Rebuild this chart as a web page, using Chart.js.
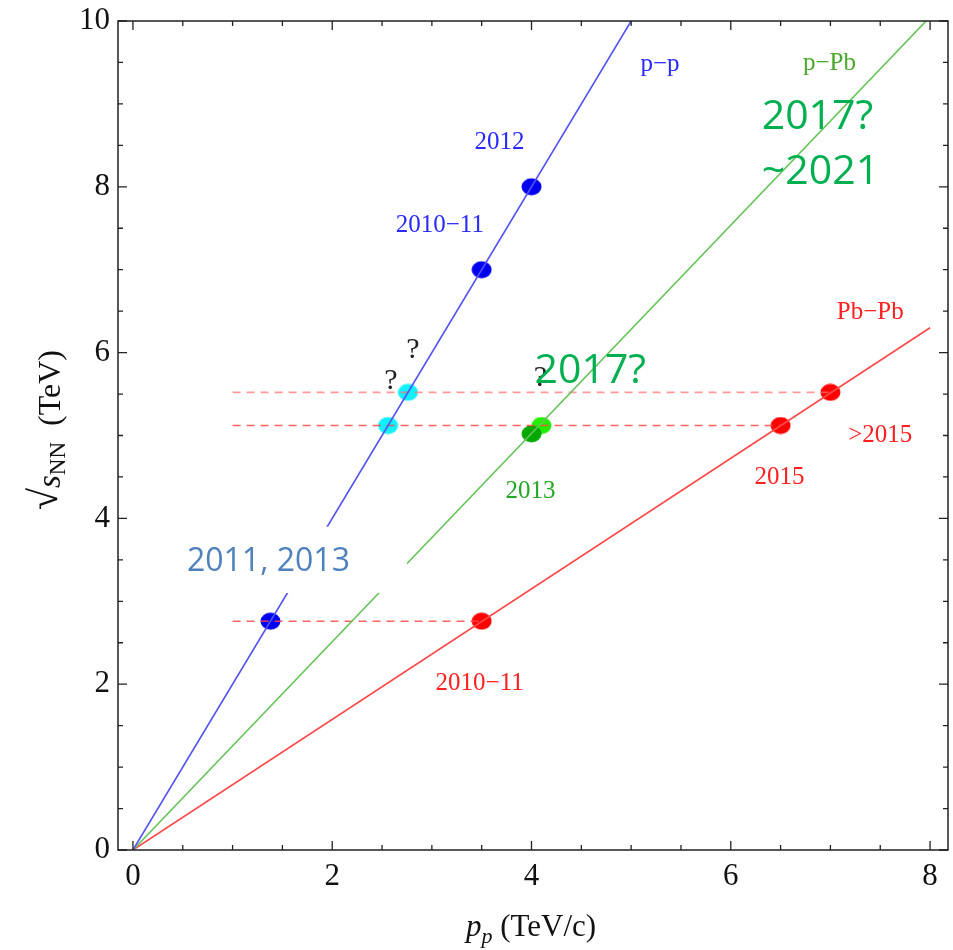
<!DOCTYPE html>
<html lang="en">
<head>
  <meta charset="UTF-8" />
  <title>sqrt(sNN) vs beam momentum</title>
  <script src="https://cdn.jsdelivr.net/npm/chart.js"></script>
  <style>
    html, body { margin: 0; padding: 0; background: #fff; }
    #wrap { width: 953px; height: 950px; }
  </style>
</head>
<body>
  <div id="wrap"><canvas id="chart" width="953" height="950"></canvas></div>

  <script>
    // ------------------------------------------
    // Data (TeV/c on x, TeV on y)
    // ------------------------------------------
    const ppLine   = [[0, 0], [5, 10]];
    const pPbLine  = [[0, 0], [8, 10.05]];
    const pbPbLine = [[0, 0], [8, 6.3]];

    const ppRuns     = [[1.38, 2.76], [3.5, 7], [4, 8]];
    const ppFuture   = [[2.56, 5.12], [2.76, 5.52]];
    const pPbRun     = [[4.0, 5.02]];
    const pPbFuture  = [[4.1, 5.12]];
    const pbPbRuns   = [[3.5, 2.76], [6.5, 5.12], [7, 5.52]];

    // dashed guides: [xFrom, xTo, y]
    const guideLines = [[1, 3.5, 2.76], [1, 6.5, 5.12], [1, 7, 5.52]];

    const xTicks = [0, 2, 4, 6, 8];
    const yTicks = [0, 2, 4, 6, 8, 10];

    const X_MIN = -0.15, X_MAX = 8.18;
    const Y_MIN = 0, Y_MAX = 10;

    const SERIF = '"Liberation Serif", "DejaVu Serif", serif';
    const SANS = '"Open Sans", "Liberation Sans", sans-serif';

    // text annotations, placed in data coordinates
    const notes = [
      { t: 'p\u2212p',   x: 5.29, y: 9.47, size: 25, color: '#2a2aff', font: SERIF },
      { t: 'p\u2212Pb',  x: 6.99, y: 9.49, size: 25, color: '#4aa82a', font: SERIF },
      { t: '2012',       x: 3.68, y: 8.54, size: 25, color: '#2a2aff', font: SERIF },
      { t: '2010\u221211', x: 3.08, y: 7.53, size: 25, color: '#2a2aff', font: SERIF },
      { t: '?',          x: 2.81, y: 6.03, size: 30, color: '#222', font: SERIF },
      { t: '?',          x: 2.59, y: 5.65, size: 30, color: '#222', font: SERIF },
      { t: '?',          x: 4.09, y: 5.69, size: 30, color: '#222', font: SERIF },
      { t: '2013',       x: 3.99, y: 4.32, size: 25, color: '#22a822', font: SERIF },
      { t: 'Pb\u2212Pb', x: 7.40, y: 6.49, size: 25, color: '#ff2020', font: SERIF },
      { t: '>2015',      x: 7.50, y: 5.00, size: 25, color: '#ff2020', font: SERIF },
      { t: '2015',       x: 6.49, y: 4.50, size: 25, color: '#ff2020', font: SERIF },
      { t: '2010\u221211', x: 3.48, y: 2.01, size: 25, color: '#ff2020', font: SERIF },
      { t: '2017?',      x: 4.59, y: 5.77, size: 41, color: '#00b050', font: SANS },
      { t: '2017?',      x: 6.87, y: 8.84, size: 41, color: '#00b050', font: SANS },
      { t: '~2021',      x: 6.90, y: 8.17, size: 41, color: '#00b050', font: SANS },
    ];

    // white text box that hides part of the lines
    const whiteBox = { x0: 0.17, x1: 2.75, y0: 3.10, y1: 3.90 };
    const boxNote = { t: '2011, 2013', x: 1.36, y: 3.47, size: 32, color: '#4f81bd', font: SANS };

    const toPts = arr => arr.map(p => ({ x: p[0], y: p[1] }));

    function ellipse(color) {
      const c = document.createElement('canvas');
      c.width = 21; c.height = 18;
      const g = c.getContext('2d');
      g.fillStyle = color;
      g.beginPath();
      g.ellipse(10.5, 9, 10, 8.5, 0, 0, Math.PI * 2);
      g.fill();
      return c;
    }

    function lineSet(arr, color) {
      return { data: toPts(arr), showLine: true, borderColor: color, borderWidth: 1.6,
               pointRadius: 0, fill: false };
    }
    function pointSet(arr, color) {
      return { data: toPts(arr), showLine: false, pointStyle: ellipse(color),
               pointRadius: 9, pointHoverRadius: 9 };
    }

    const datasets = [
      lineSet(ppLine, '#5252f5'),
      lineSet(pPbLine, '#66c45a'),
      lineSet(pbPbLine, '#ff4848'),
    ];
    guideLines.forEach((g, i) => {
      datasets.push({
        data: [{ x: g[0], y: g[2] }, { x: g[1], y: g[2] }],
        showLine: true, borderDash: [8, 6], borderWidth: 1.6, pointRadius: 0,
        borderColor: i === 2 ? 'rgba(255,110,110,0.7)' : 'rgba(255,70,70,0.85)'
      });
    });
    datasets.push(
      pointSet(ppRuns, '#0000f0'),
      pointSet(ppFuture, '#10f0ff'),
      pointSet(pPbRun, '#00a800'),
      pointSet(pPbFuture, '#22ee00'),
      pointSet(pbPbRuns, '#ff0000')
    );

    // ------------------------------------------
    // Plugins: overlay text, frame with inward ticks, axis titles
    // ------------------------------------------
    function drawNote(ctx, sx, sy, n) {
      ctx.font = n.size + 'px ' + n.font;
      ctx.fillStyle = n.color;
      ctx.textAlign = 'center';
      ctx.textBaseline = 'middle';
      ctx.fillText(n.t, sx.getPixelForValue(n.x), sy.getPixelForValue(n.y));
    }

    const overlay = {
      id: 'overlay',
      afterDatasetsDraw(chart) {
        const ctx = chart.ctx, sx = chart.scales.x, sy = chart.scales.y;
        ctx.save();
        notes.forEach(n => drawNote(ctx, sx, sy, n));
        const bx0 = sx.getPixelForValue(whiteBox.x0), bx1 = sx.getPixelForValue(whiteBox.x1);
        const by0 = sy.getPixelForValue(whiteBox.y1), by1 = sy.getPixelForValue(whiteBox.y0);
        ctx.fillStyle = '#fff';
        ctx.fillRect(bx0, by0, bx1 - bx0, by1 - by0);
        drawNote(ctx, sx, sy, boxNote);
        ctx.restore();
      },
      afterDraw(chart) {
        const ctx = chart.ctx, a = chart.chartArea, sx = chart.scales.x, sy = chart.scales.y;
        ctx.save();
        ctx.strokeStyle = '#222';
        ctx.lineWidth = 1.5;
        ctx.strokeRect(a.left, a.top, a.right - a.left, a.bottom - a.top);
        ctx.lineWidth = 1.3;
        ctx.beginPath();
        for (let v = 0; v <= 8.001; v += 0.5) {
          const px = sx.getPixelForValue(v);
          const len = Math.abs(v % 2) < 1e-6 ? 9 : 5;
          ctx.moveTo(px, a.bottom); ctx.lineTo(px, a.bottom - len);
          ctx.moveTo(px, a.top); ctx.lineTo(px, a.top + len);
        }
        for (let v = 0; v <= 10.001; v += 0.5) {
          const py = sy.getPixelForValue(v);
          const len = Math.abs(v % 2) < 1e-6 ? 9 : 5;
          ctx.moveTo(a.left, py); ctx.lineTo(a.left + len, py);
          ctx.moveTo(a.right, py); ctx.lineTo(a.right - len, py);
        }
        ctx.stroke();

        // axis titles
        ctx.fillStyle = '#111';
        ctx.textBaseline = 'alphabetic';
        ctx.textAlign = 'left';
        // x title: p_p (TeV/c)
        const xParts = [
          { t: 'p', f: 'italic 31px ' + SERIF, dy: 0 },
          { t: 'p', f: 'italic 22px ' + SERIF, dy: 7 },
          { t: ' (TeV/c)', f: '31px ' + SERIF, dy: 0 },
        ];
        drawParts(ctx, xParts, 531, 936);
        // y title: sqrt(s_NN) (TeV), rotated
        ctx.translate(60, 430);
        ctx.rotate(-Math.PI / 2);
        const yParts = [
          { t: '\u221A', f: '40px ' + SERIF, dy: -3 },
          { t: 's', f: 'italic 33px ' + SERIF, dy: 0 },
          { t: 'NN', f: '23px ' + SERIF, dy: 5 },
          { t: '  (TeV)', f: '32px ' + SERIF, dy: 0 },
        ];
        drawParts(ctx, yParts, 0, 0);
        ctx.restore();
      }
    };

    function drawParts(ctx, parts, cx, base) {
      let total = 0;
      parts.forEach(p => { ctx.font = p.f; p.w = ctx.measureText(p.t).width; total += p.w; });
      let x = cx - total / 2;
      parts.forEach(p => { ctx.font = p.f; ctx.fillText(p.t, x, base + p.dy); x += p.w; });
    }

    // ------------------------------------------
    // Chart
    // ------------------------------------------
    new Chart(document.getElementById('chart').getContext('2d'), {
      type: 'scatter',
      data: { datasets },
      options: {
        responsive: false,
        animation: false,
        layout: { autoPadding: false, padding: { top: 21, right: 5, left: 0, bottom: 0 } },
        plugins: { legend: { display: false }, tooltip: { enabled: false } },
        scales: {
          x: {
            type: 'linear', min: X_MIN, max: X_MAX,
            grid: { display: false, drawTicks: false }, border: { display: false },
            ticks: { color: '#111', font: { family: SERIF, size: 31 }, padding: 8, maxRotation: 0 },
            afterBuildTicks: s => { s.ticks = xTicks.map(v => ({ value: v })); },
            afterFit: s => { s.height = 100; s.paddingLeft = 0; s.paddingRight = 0; }
          },
          y: {
            type: 'linear', min: Y_MIN, max: Y_MAX,
            grid: { display: false, drawTicks: false }, border: { display: false },
            ticks: { color: '#111', font: { family: SERIF, size: 31 }, padding: 8 },
            afterBuildTicks: s => { s.ticks = yTicks.map(v => ({ value: v })); },
            afterFit: s => { s.width = 118; s.paddingTop = 0; s.paddingBottom = 0; }
          }
        }
      },
      plugins: [overlay]
    });
  </script>
</body>
</html>
